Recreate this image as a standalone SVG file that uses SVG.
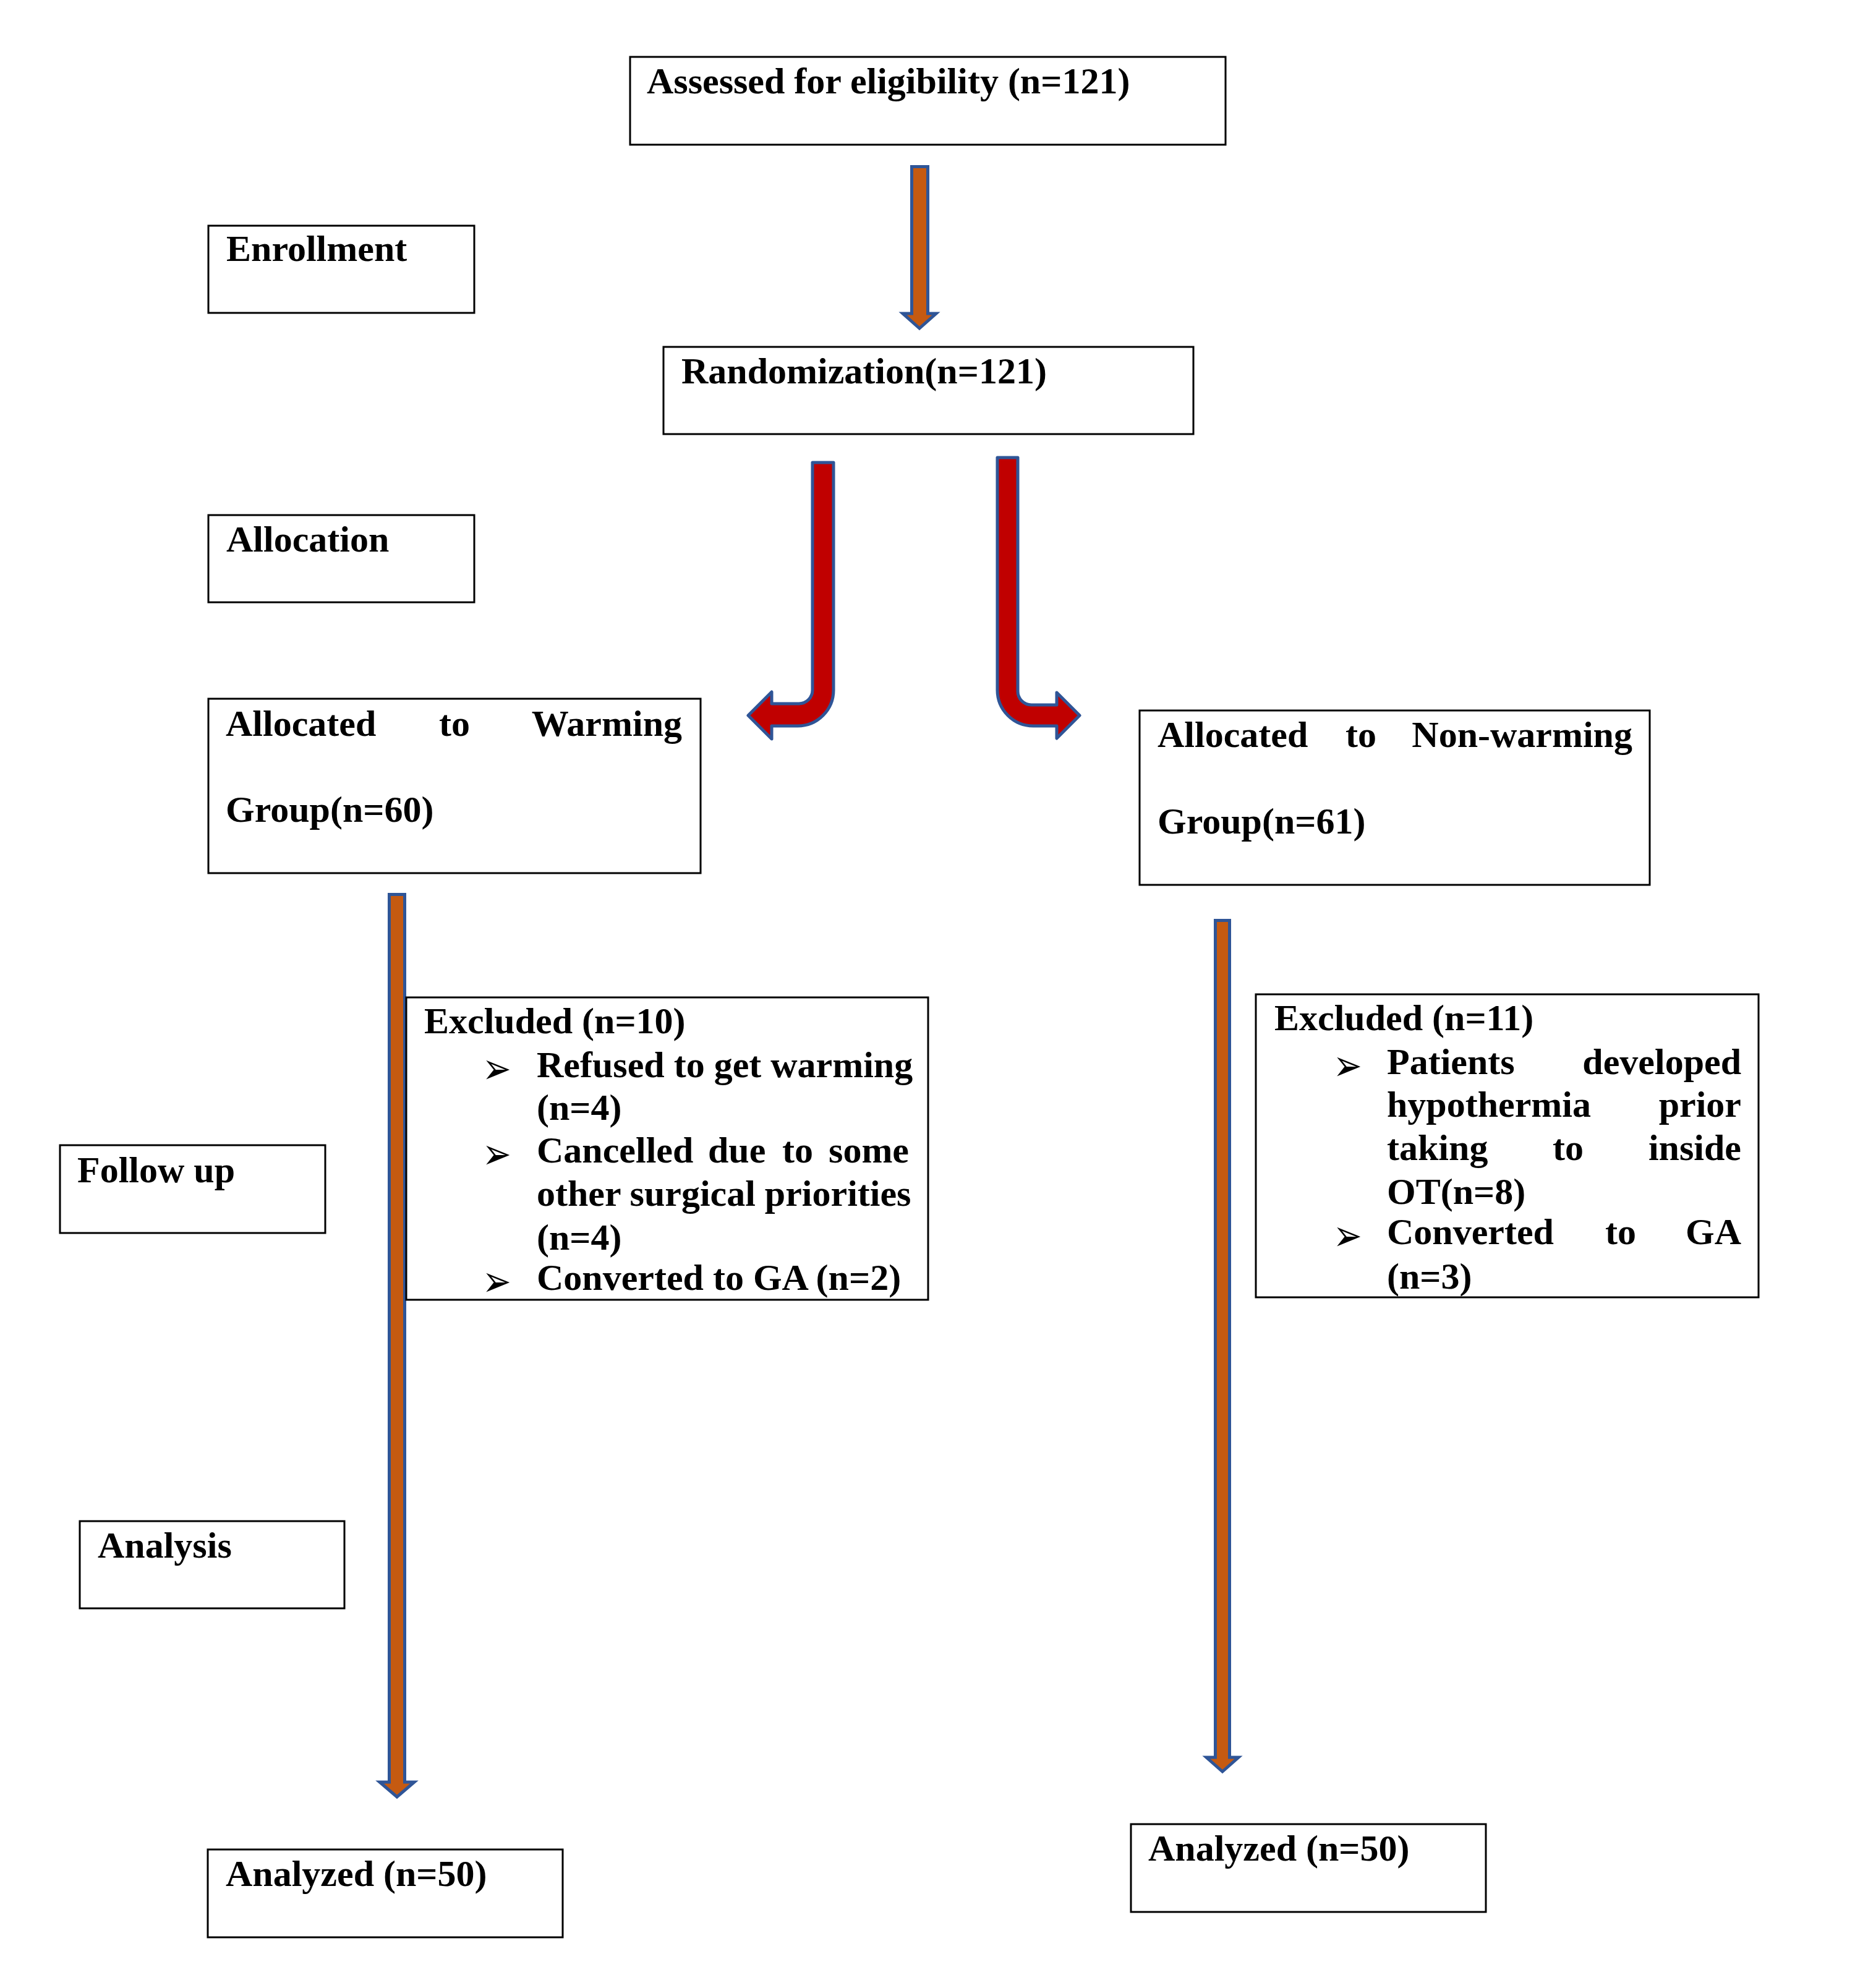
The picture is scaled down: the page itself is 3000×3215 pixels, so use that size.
<svg xmlns="http://www.w3.org/2000/svg" width="3000" height="3215" viewBox="0 0 3000 3215">
<style>
  .box { fill: #ffffff; stroke: #000000; stroke-width: 3; }
  .t { font-family: "Liberation Serif", "Times New Roman", serif; font-weight: bold; font-size: 60px; fill: #000000; }
  .bul { font-family: "DejaVu Sans", sans-serif; font-size: 56px; fill: #000000; }
  .orange { fill: #C55A11; stroke: #2F5597; stroke-width: 5; stroke-linejoin: miter; }
  .red { fill: #C00000; stroke: #2F5597; stroke-width: 5; stroke-linejoin: round; }
</style>
<rect x="0" y="0" width="3000" height="3215" fill="#ffffff"/>
<g id="connectors">
  <polygon class="orange" points="1474.5,269.5 1500.5,269.5 1500.5,507 1514,507 1487,531 1460,507 1474.5,507"/>
  <path class="red" d="M 1314 748 L 1348 748 L 1348 1116 A 58 58 0 0 1 1290 1174 L 1248 1174 L 1248 1195 L 1210 1157 L 1248 1119 L 1248 1138 L 1292 1138 A 22 22 0 0 0 1314 1116 Z"/>
  <path class="red" d="M 1613 740 L 1646 740 L 1646 1118 A 22 22 0 0 0 1668 1140 L 1709 1140 L 1709 1120 L 1746 1157 L 1709 1194 L 1709 1174 L 1671 1174 A 58 58 0 0 1 1613 1116 Z"/>
  <polygon class="orange" points="629.5,1446.5 654.5,1446.5 654.5,2882 670,2882 642,2906 614,2882 629.5,2882"/>
  <polygon class="orange" points="1965.5,1488.5 1988.5,1488.5 1988.5,2842 2003,2842 1977,2865 1951,2842 1965.5,2842"/>
</g>
<g id="n-assessed">
  <rect class="box" x="1019" y="92" width="963" height="142"/>
  <text class="t" x="1046" y="151">Assessed for eligibility (n=121)</text>
</g>
<g id="n-enrollment">
  <rect class="box" x="337" y="365" width="430" height="141"/>
  <text class="t" x="366" y="422">Enrollment</text>
</g>
<g id="n-randomization">
  <rect class="box" x="1073" y="561" width="857" height="141"/>
  <text class="t" x="1102" y="620">Randomization(n=121)</text>
</g>
<g id="n-allocation">
  <rect class="box" x="337" y="833" width="430" height="141"/>
  <text class="t" x="366" y="892">Allocation</text>
</g>
<g id="n-warming">
  <rect class="box" x="337" y="1130" width="796" height="282"/>
  <text class="t" y="1190"><tspan x="365">Allocated</tspan><tspan x="710">to</tspan><tspan x="1103" text-anchor="end">Warming</tspan></text>
  <text class="t" x="365" y="1329">Group(n=60)</text>
</g>
<g id="n-nonwarming">
  <rect class="box" x="1843" y="1149" width="825" height="282"/>
  <text class="t" y="1208"><tspan x="1872">Allocated</tspan><tspan x="2176">to</tspan><tspan x="2640" text-anchor="end">Non-warming</tspan></text>
  <text class="t" x="1872" y="1348">Group(n=61)</text>
</g>
<g id="n-followup">
  <rect class="box" x="97" y="1852" width="429" height="142"/>
  <text class="t" x="125" y="1912">Follow up</text>
</g>
<g id="n-excluded-left">
  <rect class="box" x="657" y="1613" width="844" height="489"/>
  <text class="t" x="686" y="1671">Excluded (n=10)</text>
  <text class="bul" transform="translate(780,1752) scale(1,1.25)">➢</text>
  <text class="t" x="868" y="1742">Refused to get warming</text>
  <text class="t" x="868" y="1811">(n=4)</text>
  <text class="bul" transform="translate(780,1890) scale(1,1.25)">➢</text>
  <text class="t" y="1880"><tspan x="868">Cancelled</tspan><tspan x="1145">due</tspan><tspan x="1265">to</tspan><tspan x="1470" text-anchor="end">some</tspan></text>
  <text class="t" x="868" y="1950">other surgical priorities</text>
  <text class="t" x="868" y="2021">(n=4)</text>
  <text class="bul" transform="translate(780,2096) scale(1,1.25)">➢</text>
  <text class="t" x="868" y="2086">Converted to GA (n=2)</text>
</g>
<g id="n-excluded-right">
  <rect class="box" x="2031" y="1608" width="813" height="490"/>
  <text class="t" x="2061" y="1666">Excluded (n=11)</text>
  <text class="bul" transform="translate(2156,1747) scale(1,1.25)">➢</text>
  <text class="t" y="1737"><tspan x="2243">Patients</tspan><tspan x="2816" text-anchor="end">developed</tspan></text>
  <text class="t" y="1806"><tspan x="2243">hypothermia</tspan><tspan x="2816" text-anchor="end">prior</tspan></text>
  <text class="t" y="1876"><tspan x="2243">taking</tspan><tspan x="2511">to</tspan><tspan x="2816" text-anchor="end">inside</tspan></text>
  <text class="t" x="2243" y="1947">OT(n=8)</text>
  <text class="bul" transform="translate(2156,2022) scale(1,1.25)">➢</text>
  <text class="t" y="2012"><tspan x="2243">Converted</tspan><tspan x="2596">to</tspan><tspan x="2816" text-anchor="end">GA</tspan></text>
  <text class="t" x="2243" y="2084">(n=3)</text>
</g>
<g id="n-analysis">
  <rect class="box" x="129" y="2460" width="428" height="141"/>
  <text class="t" x="158" y="2519">Analysis</text>
</g>
<g id="n-analyzed-left">
  <rect class="box" x="336" y="2991" width="574" height="142"/>
  <text class="t" x="365" y="3050">Analyzed (n=50)</text>
</g>
<g id="n-analyzed-right">
  <rect class="box" x="1829" y="2950" width="574" height="142"/>
  <text class="t" x="1857" y="3009">Analyzed (n=50)</text>
</g>
</svg>
